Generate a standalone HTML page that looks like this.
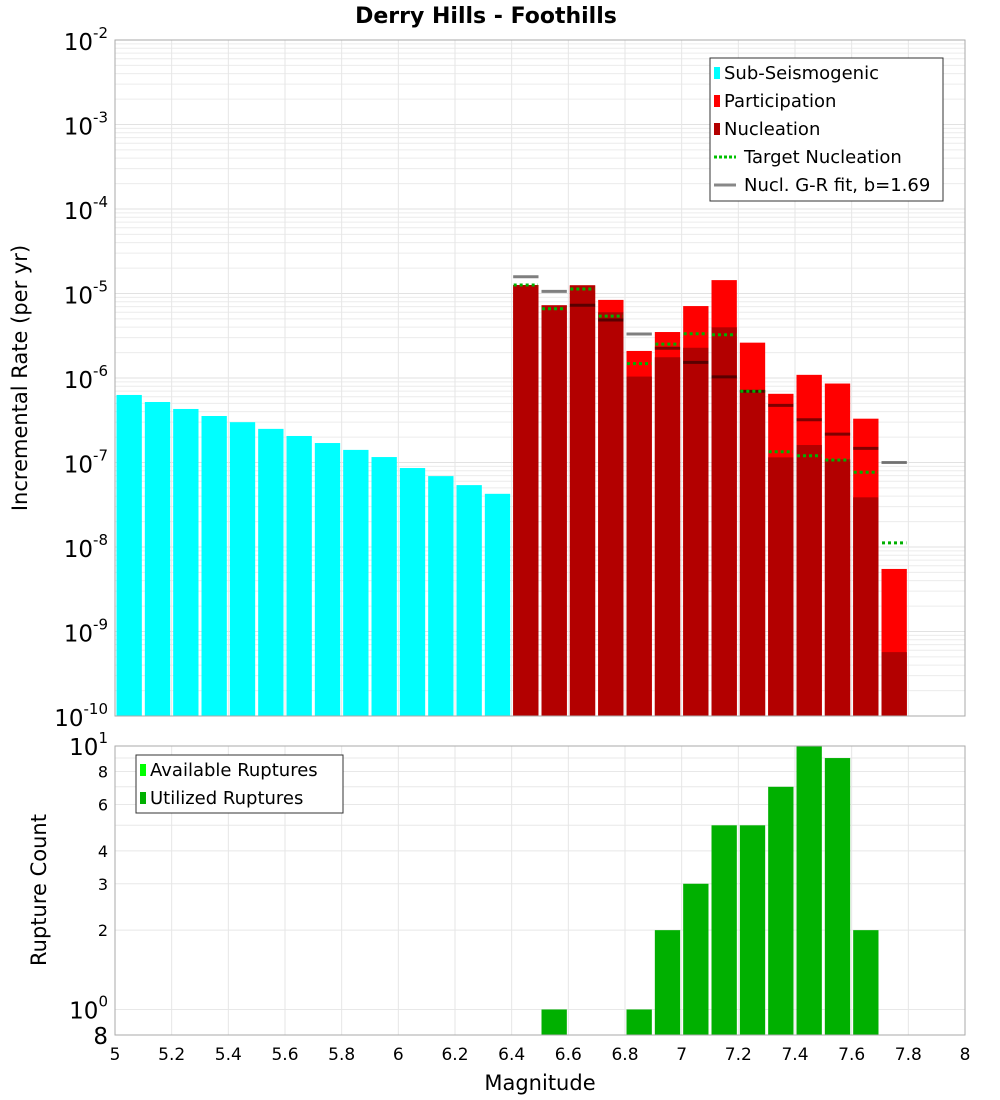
<!DOCTYPE html>
<html><head><meta charset="utf-8"><style>
body{margin:0;background:#fff;font-family:"Liberation Sans","DejaVu Sans",sans-serif}
svg{display:block}
</style></head><body>
<svg id="c" width="1000" height="1100" xmlns="http://www.w3.org/2000/svg" font-family="DejaVu Sans, Liberation Sans, sans-serif">
<text x="486" y="23" text-anchor="middle" font-size="22" font-weight="bold">Derry Hills - Foothills</text>
<g id="topg"></g><g id="botg"></g>
<text transform="translate(27,378) rotate(-90)" text-anchor="middle" font-size="21">Incremental Rate (per yr)</text>
<text transform="translate(46,890) rotate(-90)" text-anchor="middle" font-size="21">Rupture Count</text>
<text x="540" y="1090" text-anchor="middle" font-size="21">Magnitude</text>
</svg>
<script>
const subMags=[5.05,5.15,5.25,5.35,5.45,5.55,5.65,5.75,5.85,5.95,6.05,6.15,6.25,6.35];
const subRates=[6.3e-7,5.2e-7,4.3e-7,3.55e-7,3.0e-7,2.5e-7,2.06e-7,1.7e-7,1.41e-7,1.16e-7,8.6e-8,6.9e-8,5.4e-8,4.26e-8];
const supMags=[6.45,6.55,6.65,6.75,6.85,6.95,7.05,7.15,7.25,7.35,7.45,7.55,7.65,7.75];
const partRates=[1.26e-5,7.25e-6,1.25e-5,8.4e-6,2.09e-6,3.5e-6,7.1e-6,1.44e-5,2.62e-6,6.5e-7,1.09e-6,8.6e-7,3.3e-7,5.5e-9];
const nuclRates=[1.26e-5,7.25e-6,1.25e-5,6.0e-6,1.04e-6,1.76e-6,2.28e-6,3.98e-6,7.2e-7,1.15e-7,1.61e-7,1.09e-7,3.87e-8,5.7e-10];
const targetRates=[1.26e-5,6.6e-6,1.13e-5,5.4e-6,1.48e-6,2.52e-6,3.34e-6,3.25e-6,6.97e-7,1.34e-7,1.2e-7,1.07e-7,7.66e-8,1.12e-8];
const grRates=[1.58e-5,1.06e-5,7.25e-6,4.86e-6,3.32e-6,2.25e-6,1.53e-6,1.03e-6,6.97e-7,4.75e-7,3.21e-7,2.17e-7,1.47e-7,1.0e-7];
const countMags=[6.55,6.85,6.95,7.05,7.15,7.25,7.35,7.45,7.55,7.65];
const counts=[1,1,2,3,5,5,7,10,9,2];
const xTicks=[5,5.2,5.4,5.6,5.8,6,6.2,6.4,6.6,6.8,7,7.2,7.4,7.6,7.8,8];
const yExps=[-2,-3,-4,-5,-6,-7,-8,-9,-10];

const NS="http://www.w3.org/2000/svg";
const L=115,R=965,T1=40,B1=716,T2=746,B2=1035;
const X=m=>L+(m-5)/3*(R-L);
const Y1=v=>T1+(-2-Math.log10(v))/8*(B1-T1);
const lmin=Math.log10(0.8),lmax=1;
const Y2=v=>B2-(Math.log10(v)-lmin)/(lmax-lmin)*(B2-T2);
function mk(p,tag,a){const e=document.createElementNS(NS,tag);for(const k in a)e.setAttribute(k,a[k]);p.appendChild(e);return e;}
const gTop=document.getElementById('topg'),gBot=document.getElementById('botg');

mk(gTop,'rect',{x:L,y:T1,width:R-L,height:B1-T1,fill:'#fff',stroke:'none'});
mk(gBot,'rect',{x:L,y:T2,width:R-L,height:B2-T2,fill:'#fff',stroke:'none'});
for(let e=-10;e<-2;e++)for(let k=1;k<10;k++){const y=Y1(k*Math.pow(10,e));
 const g=mk(gTop,'line',{x1:L,x2:R,y1:y,y2:y,stroke:k==1?'#e2e2e2':'#ececec','stroke-width':1});
 
 }
for(let k=1;k<=10;k++){const y=Y2(k);const g=mk(gBot,'line',{x1:L,x2:R,y1:y,y2:y,stroke:'#e8e8e8'});
 
 }
xTicks.forEach(t=>{const x=X(t);
 const g1=mk(gTop,'line',{x1:x,x2:x,y1:T1,y2:B1,stroke:'#e6e6e6'});
 
 
 const g2=mk(gBot,'line',{x1:x,x2:x,y1:T2,y2:B2,stroke:'#e6e6e6'});
 
 
 const tx=mk(gBot,'text',{x:x,y:1060,'text-anchor':'middle','font-size':17});tx.textContent=String(t);
 
 });

function bar(g,m,v,Y,base,fill,name){const x0=X(m-0.05)+1.5,x1=X(m+0.05)-1.5,y=Y(v);
 const r=mk(g,'rect',{x:x0,y:y,width:x1-x0,height:base-y,fill:fill});
 
 }
subMags.forEach((m,i)=>bar(gTop,m,subRates[i],Y1,B1,'#00ffff','sub-seismogenic-bar'));
supMags.forEach((m,i)=>bar(gTop,m,partRates[i],Y1,B1,'#ff0000','participation-bar'));
supMags.forEach((m,i)=>bar(gTop,m,nuclRates[i],Y1,B1,'#b30000','nucleation-bar'));
supMags.forEach((m,i)=>{const x0=X(m-0.05)+1.5,x1=X(m+0.05)-1.5,y=Y1(grRates[i]);
 const l=mk(gTop,'line',{x1:x0,x2:x1,y1:y,y2:y,stroke:'rgba(0,0,0,0.5)','stroke-width':3});
 
 });
supMags.forEach((m,i)=>{const x0=X(m-0.05)+2,x1=X(m+0.05)-2,y=Y1(targetRates[i]);
 const l=mk(gTop,'line',{x1:x0,x2:x1,y1:y,y2:y,stroke:'#00b000','stroke-width':3,'stroke-dasharray':'3,3'});
 
 });
countMags.forEach((m,i)=>bar(gBot,m,counts[i],Y2,B2,'#00b000','rupture-count-bar'));

mk(gTop,'rect',{x:L,y:T1,width:R-L,height:B1-T1,fill:'none',stroke:'#aaa'});
mk(gBot,'rect',{x:L,y:T2,width:R-L,height:B2-T2,fill:'none',stroke:'#aaa'});

yExps.forEach(e=>{const y=Y1(Math.pow(10,e));
 const t=mk(gTop,'text',{x:108,y:y+10,'text-anchor':'end','font-size':23});
 
 
 t.innerHTML='10<tspan dy="-12" font-size="15">'+e+'</tspan>';});
[[10,'10','1'],[8,'8'],[6,'6'],[4,'4'],[3,'3'],[2,'2'],[1,'10','0'],[0.8,'8']].forEach(a=>{const y=Y2(a[0]);
 const big=a[2]!==undefined||a[0]==0.8;
 const t=mk(gBot,'text',{x:108,y:y+(big?9:6),'text-anchor':'end','font-size':big?23:16});
 
 
 t.innerHTML=a[1]+(a[2]!==undefined?'<tspan dy="-12" font-size="15">'+a[2]+'</tspan>':'');});

function legend(g,x,y,w,h,items,name){const gg=mk(g,'g',{});
 
 
 mk(gg,'rect',{x:x,y:y,width:w,height:h,fill:'#fff',stroke:'#333'});
 items.forEach((it,i)=>{const cy=y+15+i*28;const e=mk(gg,'g',{});
  
  
  if(it[1]=='box')mk(e,'rect',{x:x+4,y:cy-6,width:6,height:12,fill:it[2]});
  else mk(e,'line',{x1:x+4,x2:x+26,y1:cy,y2:cy,stroke:it[2],'stroke-width':3,'stroke-dasharray':it[1]=='dot'?'3,2':'none'});
  const t=mk(e,'text',{x:x+(it[1]=='box'?14:34),y:cy+6,'font-size':18});t.textContent=it[0];});}
legend(gTop,710,58,233,143,[['Sub-Seismogenic','box','#00ffff'],['Participation','box','#ff0000'],['Nucleation','box','#b30000'],['Target Nucleation','dot','#00c000'],['Nucl. G-R fit, b=1.69','line','#888']],'rate-legend');
legend(gBot,136,755,207,58,[['Available Ruptures','box','#00ff00'],['Utilized Ruptures','box','#00b000']],'count-legend');
</script>
</body></html>
